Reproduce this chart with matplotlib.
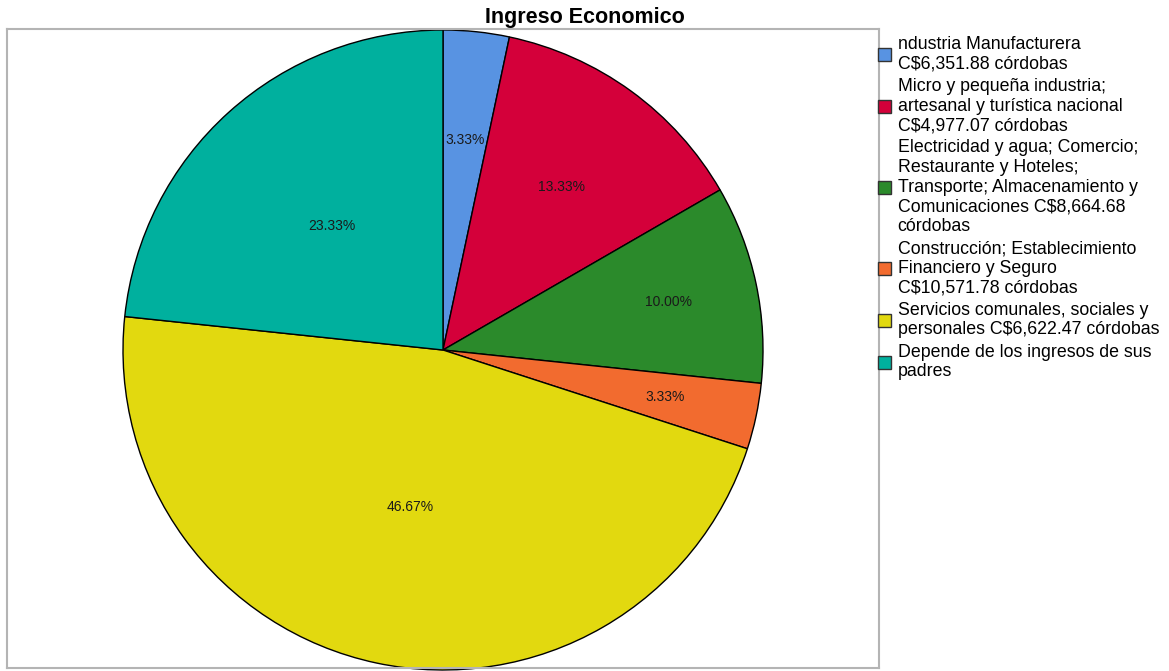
import matplotlib
matplotlib.use("Agg")
import matplotlib.pyplot as plt
import numpy as np

plt.rcParams['font.family'] = ['Liberation Sans', 'DejaVu Sans']

title = "Ingreso Economico"
categories = [
    "ndustria Manufacturera\nC$6,351.88 córdobas",
    "Micro y pequeña industria;\nartesanal y turística nacional\nC$4,977.07 córdobas",
    "Electricidad y agua; Comercio;\nRestaurante y Hoteles;\nTransporte; Almacenamiento y\nComunicaciones C$8,664.68\ncórdobas",
    "Construcción; Establecimiento\nFinanciero y Seguro\nC$10,571.78 córdobas",
    "Servicios comunales, sociales y\npersonales C$6,622.47 córdobas",
    "Depende de los ingresos de sus\npadres",
]
percentages = [3.33, 13.33, 10.00, 3.33, 46.67, 23.33]

colors = ["#5893e2", "#d4003a", "#2b8a2b", "#f26b2f", "#e2d90f", "#00b09e"]
label_radius = [0.66, 0.63, 0.72, 0.71, 0.50, 0.52]

W, H = 1169, 671
fig = plt.figure(figsize=(W / 100, H / 100), dpi=100)

# frame box in pixels
fx0, fx1, fy0, fy1 = 7, 879, 29, 668
cx, cy, R = 443, 350, 320
ax = fig.add_axes([fx0 / W, 1 - fy1 / H, (fx1 - fx0) / W, (fy1 - fy0) / H])

wedges, _ = ax.pie(percentages, colors=colors, startangle=90, counterclock=False,
                   wedgeprops=dict(edgecolor='black', linewidth=1.0), radius=1.0)
ax.set_aspect('auto')
ax.set_frame_on(True)
ax.set_xlim((fx0 - cx) / R, (fx1 - cx) / R)
ax.set_ylim(-(fy1 - cy) / R, (cy - fy0) / R)
for w in wedges:
    w.set_clip_on(False)

for w, p, r in zip(wedges, percentages, label_radius):
    ang = np.deg2rad((w.theta1 + w.theta2) / 2)
    ax.text(r * np.cos(ang), r * np.sin(ang), f"{p:.2f}%", ha='center', va='center',
            fontsize=10, color='#1a1a1a')

ax.set_xticks([])
ax.set_yticks([])
for s in ax.spines.values():
    s.set_color('#b4b4b4')
    s.set_linewidth(1.5)

fig.text(585 / W, 1 - 17 / H, title, ha='center', va='center', fontsize=15.5, fontweight='bold')

handles = [plt.Rectangle((0, 0), 1, 1, facecolor=c, edgecolor='#333333', linewidth=1.0) for c in colors]
leg = fig.legend(handles, categories, loc='upper left', bbox_to_anchor=(878 / W, 1 - 36 / H),
                 frameon=False, fontsize=12.8, handlelength=0.75, handleheight=0.75,
                 handletextpad=0.35, labelspacing=0.3, borderpad=0, borderaxespad=0)
for t in leg.get_texts():
    t.set_linespacing(1.2)

fig.savefig("out.png", dpi=100)
